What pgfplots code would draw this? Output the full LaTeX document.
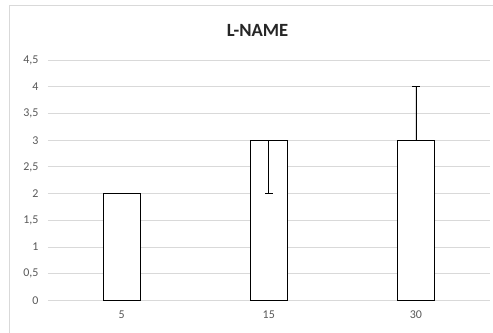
\documentclass[border=0pt]{standalone}
\usepackage{fontspec}
\setmainfont{Carlito}
\usepackage{pgfplots}
\pgfplotsset{compat=1.18}
\definecolor{gridc}{HTML}{D9D9D9}
\definecolor{textc}{HTML}{595959}
\begin{document}
\begin{tikzpicture}
\useasboundingbox (0,0) rectangle (493bp,333bp);
\fill[white] (0,0) rectangle (493bp,333bp);
\draw[gridc, line width=0.9bp] (9.5bp,0) -- (9.5bp,328bp) -- (493bp,328bp);
\node[font=\fontsize{18.7}{22}\selectfont\bfseries, text=black!85] at (257.5bp,302.5bp) {L-NAME};
\begin{axis}[
  at={(48bp,32.5bp)}, anchor=south west,
  scale only axis, width=441.5bp, height=240.5bp,
  xmin=-0.5, xmax=2.5, ymin=0, ymax=4.5,
  xtick={0,1,2}, xticklabels={5,15,30},
  ytick={0,0.5,...,4.5},
  ymajorgrids, grid style={gridc, line width=0.9bp},
  axis line style={draw=none},
  major tick length=0pt,
  tick label style={font=\fontsize{12}{14}\selectfont, text=textc},
  /pgf/number format/assume math mode=true,
  /pgf/number format/use comma,
  /pgf/number format/fixed,
  yticklabel style={anchor=east, xshift=-6bp},
  xticklabel style={anchor=north, yshift=-7bp},
  clip=false,
]
\addplot[ybar, bar width=37bp, draw=black, fill=white, line width=0.8bp,
  error bars/.cd, y dir=both, y explicit,
  error bar style={black, line width=0.8bp},
  error mark options={rotate=90, mark size=4bp, black, line width=0.8bp}]
  coordinates {
    (0,2) += (0,0) -= (0,0)
    (1,3) += (0,0) -= (0,1)
    (2,3) += (0,1) -= (0,0)
  };
\end{axis}
\end{tikzpicture}
\end{document}
